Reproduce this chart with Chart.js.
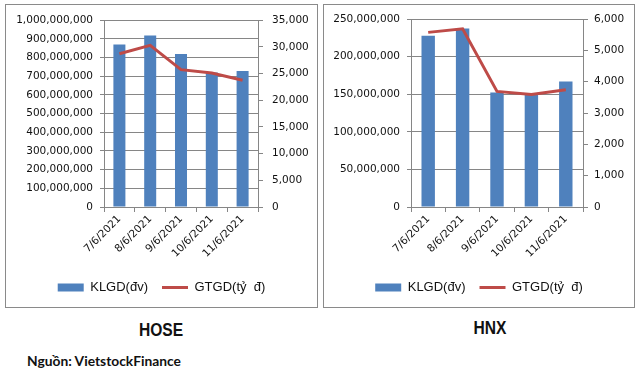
<!DOCTYPE html>
<html>
<head>
<meta charset="utf-8">
<script src="https://cdn.jsdelivr.net/npm/chart.js@4.4.0/dist/chart.umd.min.js"></script>
<style>
  body { margin: 0; background: #fff; }
  #page { position: relative; width: 639px; height: 373px; overflow: hidden; }
  .box { position: absolute; top: 4px; height: 304px; box-sizing: border-box; border: 1px solid #8a8a8a; }
  #boxHose { left: 5px; width: 313px; }
  #boxHnx { left: 323px; width: 312px; }
  .box canvas { display: block; }
  .title { position: absolute; font-family: "Liberation Sans", sans-serif; font-weight: bold; font-size: 19px; color: #111; transform: translateX(-50%) scaleX(0.82); }
  #source { position: absolute; left: 27px; top: 352px; font-family: Lato, "Open Sans", sans-serif; font-weight: bold; font-size: 13.8px; color: #111; }
</style>
</head>
<body>
<div id="page">
  <div class="box" id="boxHose"><canvas id="hoseChart" width="311" height="302"></canvas></div>
  <div class="box" id="boxHnx"><canvas id="hnxChart" width="310" height="302"></canvas></div>
  <div class="title" style="left:161px; top:319px;">HOSE</div>
  <div class="title" style="left:490px; top:317px;">HNX</div>
  <div id="source">Nguồn: VietstockFinance</div>
</div>
<script>
const dates = ['7/6/2021', '8/6/2021', '9/6/2021', '10/6/2021', '11/6/2021'];

// HOSE
const hoseVolume = [871000000, 918000000, 819000000, 721000000, 729000000];
const hoseValue = [28730, 30290, 25750, 25130, 23770];
const hoseLeftTicks = [0, 1000000000, 100000000];   // min, max, step
const hoseRightTicks = [0, 35000, 5000];

// HNX
const hnxVolume = [227700000, 237500000, 152400000, 149700000, 167000000];
const hnxValue = [5573, 5689, 3690, 3594, 3744];
const hnxLeftTicks = [0, 250000000, 50000000];
const hnxRightTicks = [0, 6000, 1000];

const gridColor = '#868686';
const tickFont = { family: 'DejaVu Sans', size: 10.5 };

function fmt(v) {
  return Number(v).toLocaleString('en-US');
}

function makeChart(id, volume, value, leftTicks, rightTicks, leftW, rightW, rightPad, topPad) {
  const ctx = document.getElementById(id).getContext('2d');
  return new Chart(ctx, {
    type: 'bar',
    data: {
      labels: dates,
      datasets: [{
        type: 'bar',
        label: 'KLGD(đv)',
        data: volume,
        backgroundColor: '#4F81BD',
        borderWidth: 0,
        pointStyle: 'rect',
        categoryPercentage: 1,
        barPercentage: 0.39,
        yAxisID: 'y',
        order: 2
      }, {
        type: 'line',
        label: 'GTGD(tỷ  đ)',
        data: value,
        borderColor: '#BE4B48',
        backgroundColor: '#BE4B48',
        borderWidth: 3,
        pointRadius: 0,
        pointStyle: 'line',
        tension: 0,
        yAxisID: 'y1',
        order: 1
      }]
    },
    options: {
      responsive: false,
      animation: false,
      layout: { padding: { top: topPad, bottom: 3, left: 0, right: 0 } },
      plugins: {
        tooltip: { enabled: false },
        legend: {
          position: 'bottom',
          labels: {
            usePointStyle: true,
            pointStyleWidth: 26,
            boxHeight: 8,
            padding: 14,
            color: '#111',
            font: { family: 'Liberation Sans', size: 13 },
            sort: (a, b) => a.datasetIndex - b.datasetIndex
          }
        }
      },
      scales: {
        x: {
          grid: { display: true, offset: true, drawOnChartArea: false, tickLength: 5, color: gridColor },
          border: { color: gridColor },
          ticks: { minRotation: 45, maxRotation: 45, color: '#111', font: tickFont, padding: 1 },
          afterFit: s => { s.height = 60; }
        },
        y: {
          position: 'left',
          min: leftTicks[0], max: leftTicks[1],
          grid: { color: gridColor, tickLength: 4 },
          border: { color: gridColor },
          ticks: { stepSize: leftTicks[2], color: '#111', font: tickFont, padding: 7, callback: fmt },
          afterFit: s => { s.width = leftW; }
        },
        y1: {
          position: 'right',
          min: rightTicks[0], max: rightTicks[1],
          grid: { drawOnChartArea: false, color: gridColor, tickLength: 5 },
          border: { color: gridColor },
          ticks: { stepSize: rightTicks[2], color: '#111', font: tickFont, padding: rightPad, callback: fmt },
          afterFit: s => { s.width = rightW; }
        }
      }
    }
  });
}

makeChart('hoseChart', hoseVolume, hoseValue, hoseLeftTicks, hoseRightTicks, 98, 59, 9, 13);
makeChart('hnxChart', hnxVolume, hnxValue, hnxLeftTicks, hnxRightTicks, 87, 51, 6, 14);
</script>
</body>
</html>
